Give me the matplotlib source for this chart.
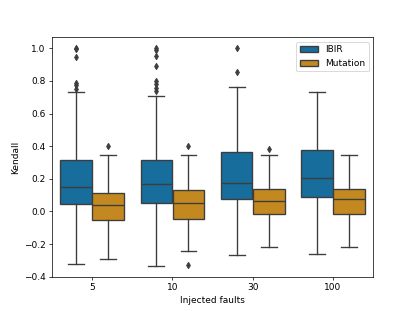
import colorsys
import matplotlib
matplotlib.use("Agg")
import matplotlib.pyplot as plt
from matplotlib.patches import Patch

# box statistics
faults = ["5", "10", "30", "100"]
hues = ["IBIR", "Mutation"]

ibir_q1 = [0.045, 0.051, 0.075, 0.088]
ibir_med = [0.149, 0.171, 0.177, 0.208]
ibir_q3 = [0.318, 0.318, 0.367, 0.379]
ibir_lo = [-0.322, -0.334, -0.269, -0.261]
ibir_hi = [0.730, 0.708, 0.763, 0.734]
ibir_fliers = [
    [1.0, 0.995, 0.944, 0.79, 0.777, 0.748],
    [1.0, 0.99, 0.954, 0.891, 0.80, 0.78, 0.757, 0.74],
    [1.0, 0.856],
    [],
]

mut_q1 = [-0.051, -0.045, -0.018, -0.018]
mut_med = [0.041, 0.055, 0.065, 0.077]
mut_q3 = [0.112, 0.133, 0.137, 0.137]
mut_lo = [-0.290, -0.243, -0.218, -0.218]
mut_hi = [0.347, 0.349, 0.347, 0.347]
mut_fliers = [[0.40], [0.404, -0.33], [0.383], []]


def desat(hexcol, prop=0.75):
    rgb = matplotlib.colors.to_rgb(hexcol)
    h, l, s = colorsys.rgb_to_hls(*rgb)
    return colorsys.hls_to_rgb(h, l, s * prop)


colors = [desat("#0173b2"), desat("#de8f05")]
gray = "#3d3d3d"

fig, ax = plt.subplots(figsize=(6.4, 4.8), dpi=64.8)

groups = [
    (ibir_q1, ibir_med, ibir_q3, ibir_lo, ibir_hi, ibir_fliers),
    (mut_q1, mut_med, mut_q3, mut_lo, mut_hi, mut_fliers),
]
offsets = [-0.2, 0.2]
for k, (q1, med, q3, lo, hi, fl) in enumerate(groups):
    stats = []
    for i in range(len(faults)):
        stats.append(dict(q1=q1[i], med=med[i], q3=q3[i], whislo=lo[i],
                          whishi=hi[i], fliers=fl[i]))
    pos = [i + offsets[k] for i in range(len(faults))]
    ax.bxp(stats, positions=pos, widths=0.392, patch_artist=True,
           showfliers=True, manage_ticks=False,
           boxprops=dict(facecolor=colors[k], edgecolor=gray, linewidth=1.5),
           medianprops=dict(color=gray, linewidth=1.5),
           whiskerprops=dict(color=gray, linewidth=1.5),
           capprops=dict(color=gray, linewidth=1.5),
           flierprops=dict(marker="d", markerfacecolor=gray,
                           markeredgecolor=gray, markersize=5))

ax.set_xticks(range(len(faults)))
ax.set_xticklabels(faults)
ax.set_xlim(-0.5, len(faults) - 0.5)
ax.set_ylim(-0.4, 1.067)
ax.set_xlabel("Injected faults")
ax.set_ylabel("Kendall")

handles = [Patch(facecolor=colors[k], edgecolor=gray, linewidth=1.5,
                 label=hues[k]) for k in range(2)]
ax.legend(handles=handles, loc="upper right")

fig.savefig("out.png", dpi=64.8)
